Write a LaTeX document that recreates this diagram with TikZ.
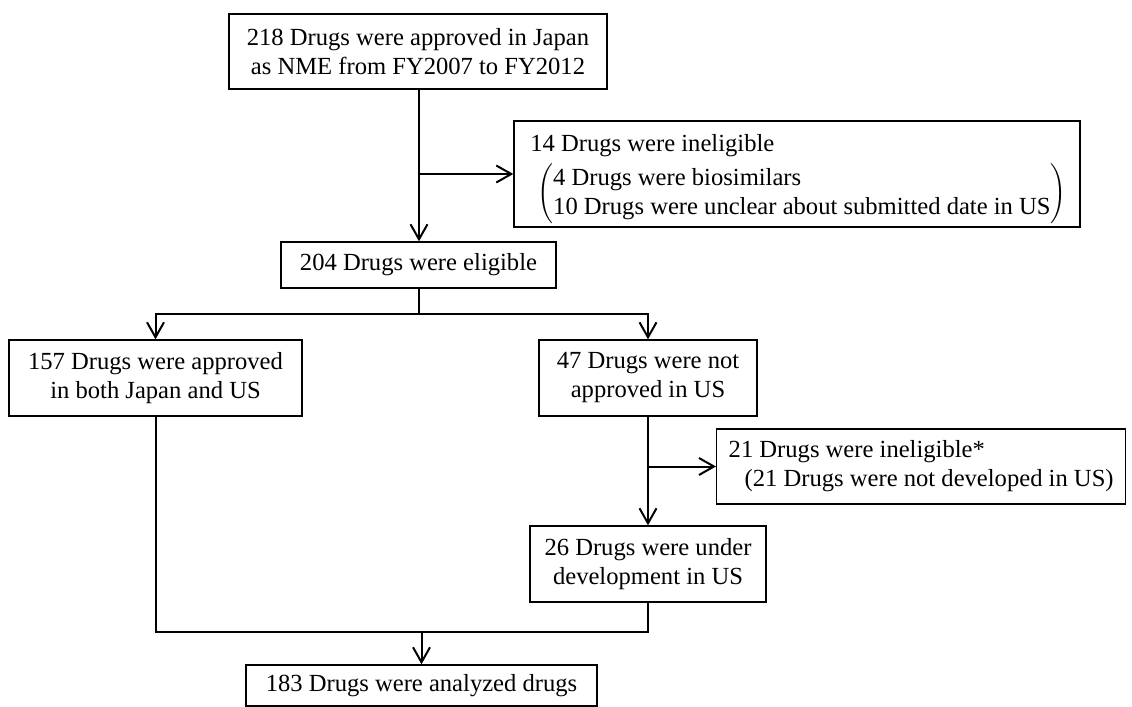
\documentclass[tikz,border=0pt]{standalone}
\usepackage{fontspec}
\setmainfont{Liberation Serif}
\usetikzlibrary{arrows.meta}
\newcommand\flowfont{\fontsize{12.3}{14.5}\selectfont}
\begin{document}
\begin{tikzpicture}[x=0.5pt,y=-0.5pt,
  box/.style={draw=black, line width=0.7pt, inner sep=0pt, align=center, font=\flowfont},
  txt/.style={inner sep=0pt, font=\flowfont},
  conn/.style={line width=1pt},
  arr/.style={conn, -{Straight Barb[length=7.5pt,width=8.5pt]}}]
\useasboundingbox (0,0) rectangle (1132,707);
% nodes
\node[box, minimum width=189pt, minimum height=37.5pt] (top) at (418,51.5)
  {218 Drugs were approved in Japan\\as NME from FY2007 to FY2012};
\node[box, minimum width=283pt, minimum height=53pt] (inel) at (797,174) {};
\node[txt, anchor=base west] (inelA) at (530,151) {14 Drugs were ineligible};
\node[txt, anchor=west] (inelB) at (537,194)
  {$\left(\vcenter{\hbox{\begin{tabular}{@{}l@{}}4 Drugs were biosimilars\\10 Drugs were unclear about submitted date in US\end{tabular}}}\right)$};
\node[box, minimum width=137.5pt, minimum height=23pt] (elig) at (418.5,265)
  {204 Drugs were eligible};
\node[box, minimum width=146.5pt, minimum height=38pt] (both) at (155.5,378)
  {157 Drugs were approved\\in both Japan and US};
\node[box, minimum width=109pt, minimum height=38pt] (notus) at (648,378)
  {47 Drugs were not\\approved in US};
\node[box, anchor=west, inner xsep=6pt, minimum height=37.5pt] (inel2) at (716,466.5)
  {\begin{tabular}{@{}l@{}}21 Drugs were ineligible*\\\hspace*{8pt}(21 Drugs were not developed in US)\end{tabular}};
\node[box, minimum width=118pt, minimum height=38pt] (under) at (648,564)
  {26 Drugs were under\\development in US};
\node[box, minimum width=175.5pt, minimum height=20.5pt] (final) at (421.5,685.5)
  {183 Drugs were analyzed drugs};
% helper coordinates
\coordinate (trunk) at (419,0);
\coordinate (split) at (419,314);
\coordinate (merge) at (422,632);
% connectors
\draw[arr] (top.south -| trunk) -- (elig.north -| trunk);
\draw[arr] (inel.west -| trunk) -- (inel.west);
\draw[conn] (elig.south -| split) -- (split);
\draw[arr] (split) -| (both.north);
\draw[arr] (split) -| (notus.north);
\draw[arr] (notus.south) -- (under.north);
\draw[arr] (notus.south |- inel2.west) -- (inel2.west);
\draw[conn] (both.south) |- (under.south |- merge) -- (under.south);
\draw[arr] (final.north |- merge) -- (final.north);
\end{tikzpicture}
\end{document}
